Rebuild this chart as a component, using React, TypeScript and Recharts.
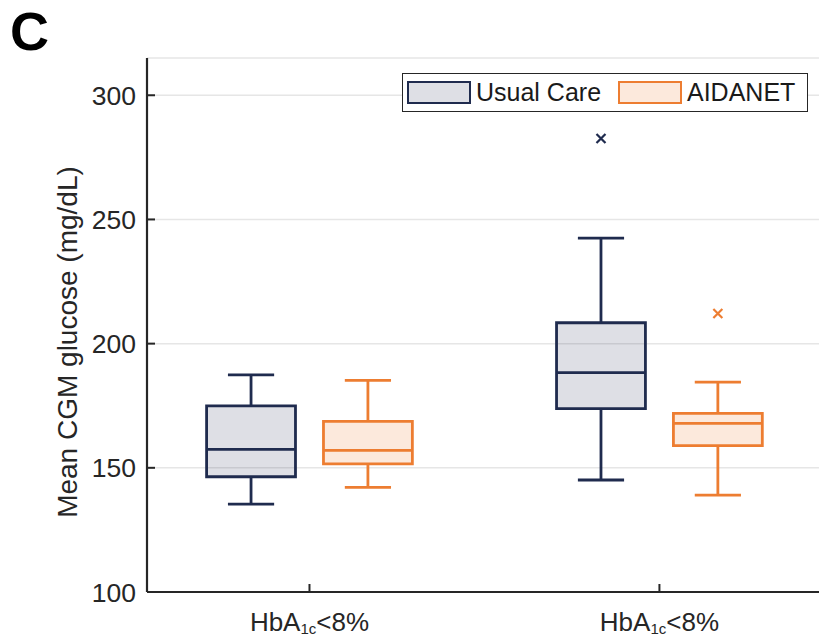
import React from 'react';
import {
  ComposedChart,
  XAxis,
  YAxis,
  CartesianGrid,
  ReferenceArea,
  ReferenceLine,
  Scatter,
  Label,
} from 'recharts';

// categories (x positions 1, 2) and the two series
const categories = ['HbA1c<8%', 'HbA1c<8%'];
const seriesNames = ['Usual Care', 'AIDANET'];

const usualMin = [135.4, 145.1];
const usualQ1 = [146.4, 173.8];
const usualMedian = [157.4, 188.3];
const usualQ3 = [174.9, 208.4];
const usualMax = [187.4, 242.5];
const usualOutliers = [[], [282.6]];

const aidanetMin = [142.1, 139.0];
const aidanetQ1 = [151.6, 158.9];
const aidanetMedian = [157.0, 167.9];
const aidanetQ3 = [168.7, 171.9];
const aidanetMax = [185.2, 184.5];
const aidanetOutliers = [[], [212.1]];

const yTicks = [100, 150, 200, 250, 300];
const yLabel = 'Mean CGM glucose (mg/dL)';
const panelLetter = 'C';

const NAVY = '#1f2b4e';
const ORANGE = '#ed7d31';
const AXIS = '#262626';
const FONT = '"Liberation Sans", Arial, Helvetica, sans-serif';

const X_DOMAIN: [number, number] = [0.5357, 2.456];
const Y_DOMAIN: [number, number] = [100, 315];
const OFFSET = 0.167;
const HALF_BOX = 0.127;
const HALF_CAP = 0.066;

const series = [
  { name: seriesNames[0], color: NAVY, shift: -OFFSET, min: usualMin, q1: usualQ1, med: usualMedian, q3: usualQ3, max: usualMax, out: usualOutliers },
  { name: seriesNames[1], color: ORANGE, shift: OFFSET, min: aidanetMin, q1: aidanetQ1, med: aidanetMedian, q3: aidanetQ3, max: aidanetMax, out: aidanetOutliers },
];

const XTick = (props: any) => {
  const { x, y, payload } = props;
  const label = categories[payload.value - 1] || '';
  const [pre, post] = label.split('1c');
  return (
    <g>
      <line x1={x} y1={y} x2={x} y2={y - 8} stroke={AXIS} strokeWidth={2} />
      <text x={x} y={y + 39} textAnchor="middle" fontSize={26} fill={AXIS} fontFamily={FONT}>
        {pre}
        <tspan fontSize={15} dy={3}>1c</tspan>
        <tspan dy={-3}>{post}</tspan>
      </text>
    </g>
  );
};

const TopTick = (props: any) => (
  <line x1={props.x} y1={props.y} x2={props.x} y2={props.y + 8} stroke={AXIS} strokeWidth={2} />
);

const YTick = (props: any) => {
  const { x, y, payload } = props;
  return (
    <g>
      <line x1={x} y1={y} x2={x + 8} y2={y} stroke={AXIS} strokeWidth={2} />
      <text x={x - 11} y={y} dy="0.36em" textAnchor="end" fontSize={26.5} fill={AXIS} fontFamily={FONT}>
        {payload.value}
      </text>
    </g>
  );
};

const RightTick = (props: any) => (
  <line x1={props.x} y1={props.y} x2={props.x - 7} y2={props.y} stroke={AXIS} strokeWidth={2} />
);

const Cross = (props: any) => {
  const { cx, cy, fill } = props;
  const r = 4.5;
  return (
    <path
      d={`M${cx - r},${cy - r}L${cx + r},${cy + r}M${cx - r},${cy + r}L${cx + r},${cy - r}`}
      stroke={fill}
      strokeWidth={2.2}
    />
  );
};

const LegendBox = () => (
  <div
    style={{
      position: 'absolute',
      left: 402,
      top: 73,
      width: 406,
      height: 39,
      boxSizing: 'border-box',
      border: `1.5px solid ${AXIS}`,
      background: '#fff',
      fontFamily: FONT,
      fontSize: 25,
      color: '#1a1a1a',
    }}
  >
    {series.map((s, i) => (
      <React.Fragment key={s.name}>
        <div
          style={{
            position: 'absolute',
            left: i === 0 ? 4 : 215,
            top: 6.5,
            width: 64,
            height: 23,
            boxSizing: 'border-box',
            border: `2.8px solid ${s.color}`,
            background: s.color === NAVY ? 'rgba(31,43,78,0.15)' : 'rgba(237,125,49,0.17)',
          }}
        />
        <div style={{ position: 'absolute', left: i === 0 ? 73 : 284, top: 3, lineHeight: '30px' }}>{s.name}</div>
      </React.Fragment>
    ))}
  </div>
);

export default function App() {
  const outlierData = series.map((s) =>
    s.out.flatMap((vals, i) => vals.map((v) => ({ x: i + 1 + s.shift, y: v })))
  );

  return (
    <div style={{ position: 'absolute', left: 0, top: 0, width: 819, height: 637, fontFamily: FONT }}>
      <ComposedChart width={819} height={637} margin={{ top: 58, right: 0, bottom: 0, left: 0 }}>
        <CartesianGrid vertical={false} stroke="#e6e6e6" strokeWidth={1.5} />
        <XAxis
          type="number"
          dataKey="x"
          domain={X_DOMAIN}
          ticks={[1, 2]}
          interval={0}
          allowDataOverflow
          height={45}
          tickSize={0}
          tickMargin={0}
          tickLine={false}
          axisLine={{ stroke: AXIS, strokeWidth: 2.2 }}
          tick={(p: any) => <XTick {...p} />}
        />
        <XAxis
          xAxisId="top"
          orientation="top"
          type="number"
          domain={X_DOMAIN}
          ticks={[1, 2]}
          interval={0}
          allowDataOverflow
          height={0}
          tickSize={0}
          tickMargin={0}
          tickLine={false}
          axisLine={{ stroke: AXIS, strokeWidth: 2.2 }}
          tick={(p: any) => <TopTick {...p} />}
        />
        <YAxis
          type="number"
          domain={Y_DOMAIN}
          ticks={yTicks}
          interval={0}
          allowDataOverflow
          width={147}
          tickSize={0}
          tickMargin={0}
          tickLine={false}
          axisLine={{ stroke: AXIS, strokeWidth: 2.2 }}
          tick={(p: any) => <YTick {...p} />}
        >
          <Label
            content={() => (
              <text
                x={0}
                y={0}
                transform="translate(77, 342) rotate(-90)"
                textAnchor="middle"
                fontSize={28}
                fill={AXIS}
                fontFamily={FONT}
              >
                {yLabel}
              </text>
            )}
          />
        </YAxis>
        <YAxis
          yAxisId="right"
          orientation="right"
          type="number"
          domain={Y_DOMAIN}
          ticks={yTicks}
          interval={0}
          allowDataOverflow
          width={0}
          tickSize={0}
          tickMargin={0}
          tickLine={false}
          axisLine={{ stroke: AXIS, strokeWidth: 2 }}
          tick={(p: any) => <RightTick {...p} />}
        />

        {series.flatMap((s) =>
          categories.map((_, i) => (
            <ReferenceArea
              key={`box-${s.name}-${i}`}
              x1={i + 1 + s.shift - HALF_BOX}
              x2={i + 1 + s.shift + HALF_BOX}
              y1={s.q1[i]}
              y2={s.q3[i]}
              fill={s.color}
              fillOpacity={s.color === NAVY ? 0.15 : 0.17}
              stroke={s.color}
              strokeWidth={2.8}
              ifOverflow="visible"
            />
          ))
        )}

        {series.flatMap((s) =>
          categories.flatMap((_, i) => {
            const c = i + 1 + s.shift;
            const segs = [
              [{ x: c - HALF_BOX, y: s.med[i] }, { x: c + HALF_BOX, y: s.med[i] }],
              [{ x: c, y: s.q3[i] }, { x: c, y: s.max[i] }],
              [{ x: c, y: s.min[i] }, { x: c, y: s.q1[i] }],
              [{ x: c - HALF_CAP, y: s.max[i] }, { x: c + HALF_CAP, y: s.max[i] }],
              [{ x: c - HALF_CAP, y: s.min[i] }, { x: c + HALF_CAP, y: s.min[i] }],
            ];
            return segs.map((seg, k) => (
              <ReferenceLine
                key={`seg-${s.name}-${i}-${k}`}
                segment={seg}
                stroke={s.color}
                strokeWidth={2.8}
                ifOverflow="visible"
              />
            ));
          })
        )}

        {series.map((s, si) => (
          <Scatter
            key={`out-${s.name}`}
            name={s.name}
            data={outlierData[si]}
            dataKey="y"
            fill={s.color}
            shape={(p: any) => <Cross {...p} />}
            isAnimationActive={false}
          />
        ))}
      </ComposedChart>

      <LegendBox />

      <svg width={819} height={637} style={{ position: 'absolute', left: 0, top: 0, pointerEvents: 'none' }}>
        <text x={10} y={50} fontSize={54} fontWeight="bold" fill="#000" fontFamily={FONT}>
          {panelLetter}
        </text>
      </svg>
    </div>
  );
}
